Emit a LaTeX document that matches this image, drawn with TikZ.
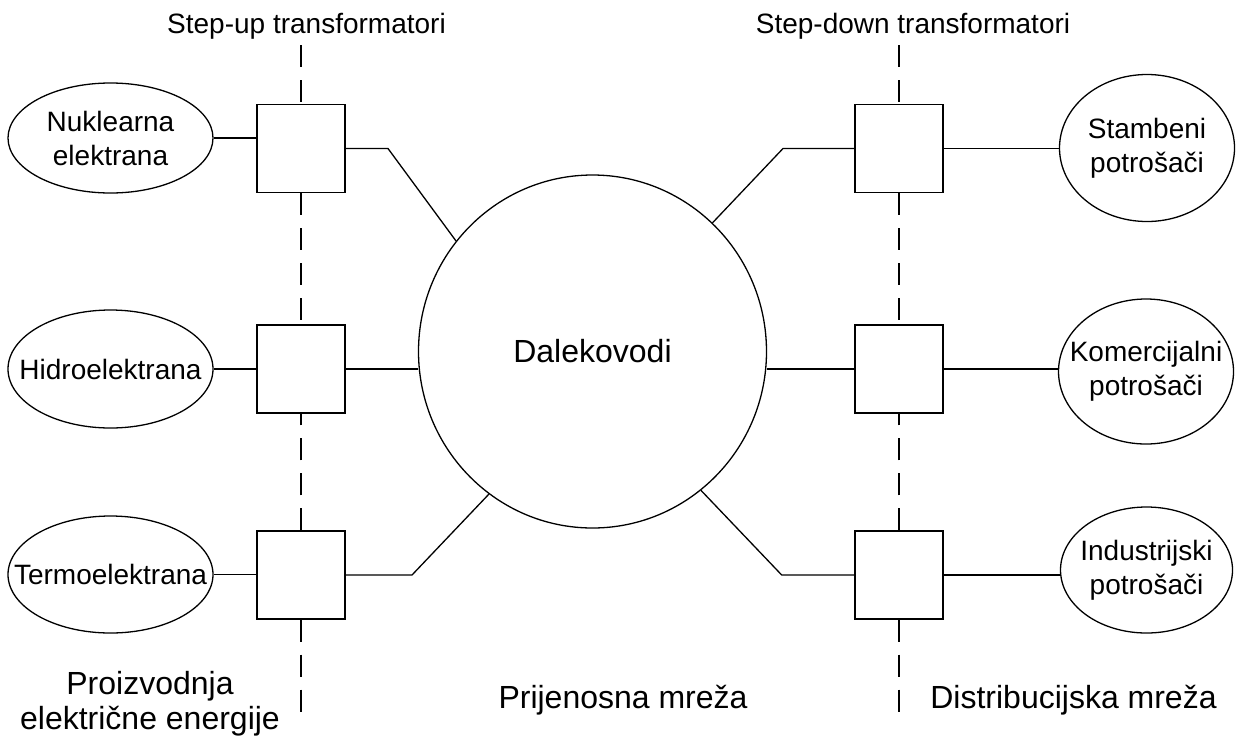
\documentclass[tikz,border=0pt]{standalone}
\usepackage{fontspec}
\setmainfont{Liberation Sans}
\usetikzlibrary{shapes.geometric}
\begin{document}
\begin{tikzpicture}[x=1pt,y=-1pt,line width=1.3pt,
  ell/.style={draw, ellipse, inner sep=0pt},
  tbox/.style={draw, fill=white, rectangle, minimum width=88pt, minimum height=88pt, inner sep=0pt},
  lbl/.style={font=\fontsize{28}{34}\selectfont, align=center, inner sep=0pt},
  big/.style={font=\fontsize{32}{35}\selectfont, align=center, inner sep=0pt},
  sepline/.style={dash pattern=on 22pt off 13pt}]
\useasboundingbox (0,0) rectangle (1236,740);

% central ellipse
\node[ell, minimum width=348pt, minimum height=353pt, font=\fontsize{32}{35}\selectfont] (c) at (592.5,351.5) {Dalekovodi};

% sources
\node[ell, minimum width=205pt, minimum height=110pt] (e1) at (110.5,138) {};
\node[ell, minimum width=205pt, minimum height=118pt] (e2) at (110.5,369) {};
\node[ell, minimum width=205pt, minimum height=117pt] (e3) at (110.5,574.5) {};
\node[lbl] (t1) at (e1.center) {Nuklearna\\elektrana};
\node[lbl] (t2) at (e2.center) {Hidroelektrana};
\node[lbl] (t3) at (e3.center) {Termoelektrana};

% consumers
\node[ell, minimum width=175pt, minimum height=147pt] (e4) at (1147,148) {};
\node[ell, minimum width=175pt, minimum height=145pt] (e5) at (1146,371.5) {};
\node[ell, minimum width=172pt, minimum height=126pt] (e6) at (1146.5,570) {};
\node[lbl] (t4) at (e4.center) {Stambeni\\potrošači};
\node[lbl] (t5) at (e5.center) {Komercijalni\\potrošači};
\node[lbl] (t6) at (e6.center) {Industrijski\\potrošači};

% transformers
\node[tbox] (b1) at (301,148.5) {};
\node[tbox] (b2) at (301,369) {};
\node[tbox] (b3) at (301,575) {};
\node[tbox] (b4) at (899,148.5) {};
\node[tbox] (b5) at (899,369) {};
\node[tbox] (b6) at (899,575) {};

% dashed separators
\coordinate (l1) at (301,45);
\coordinate (l2) at (301,713);
\coordinate (r1) at (899,45);
\coordinate (r2) at (899,713);
\draw[sepline] (l1) -- (b1.north);
\draw[sepline] (b1.south) -- (b2.north);
\draw[sepline] (b3.north) -- (b2.south);
\draw[sepline] (b3.south) -- (l2);
\draw[sepline] (r1) -- (b4.north);
\draw[sepline] (b4.south) -- (b5.north);
\draw[sepline] (b6.north) -- (b5.south);
\draw[sepline] (b6.south) -- (r2);

% connectors left
\draw (e1.east) -- (e1.east -| b1.west);
\draw (e2.east) -- (e2.east -| b2.west);
\draw (e3.east) -- (e3.east -| b3.west);
\coordinate (k1) at (388,148.5);
\coordinate (k3) at (412,575);
\draw (b1.east) -- (k1) -- (c.141.1);
\draw (b2.east) -- (b2.east -| c.west);
\draw (b3.east) -- (k3) -- (c.234.8);

% connectors right
\coordinate (k4) at (783,148.5);
\coordinate (k6) at (781.7,575);
\draw (c.47.8) -- (k4) -- (b4.west);
\draw (b5.west -| c.east) -- (b5.west);
\draw (c.-52.5) -- (k6) -- (b6.west);
\draw (b4.east) -- (b4.east -| e4.west);
\draw (b5.east) -- (b5.east -| e5.west);
\draw (b6.east) -- (b6.east -| e6.west);

% labels
\node[lbl, anchor=base] (su) at (306.5,33) {Step-up transformatori};
\node[lbl, anchor=base] (sd) at (913,33) {Step-down transformatori};
\node[big] (p1) at (150,704) {Proizvodnja\\električne energije};
\node[big, anchor=base] (p2) at (623,708) {Prijenosna mreža};
\node[big, anchor=base] (p3) at (1073.5,708) {Distribucijska mreža};
\end{tikzpicture}
\end{document}
